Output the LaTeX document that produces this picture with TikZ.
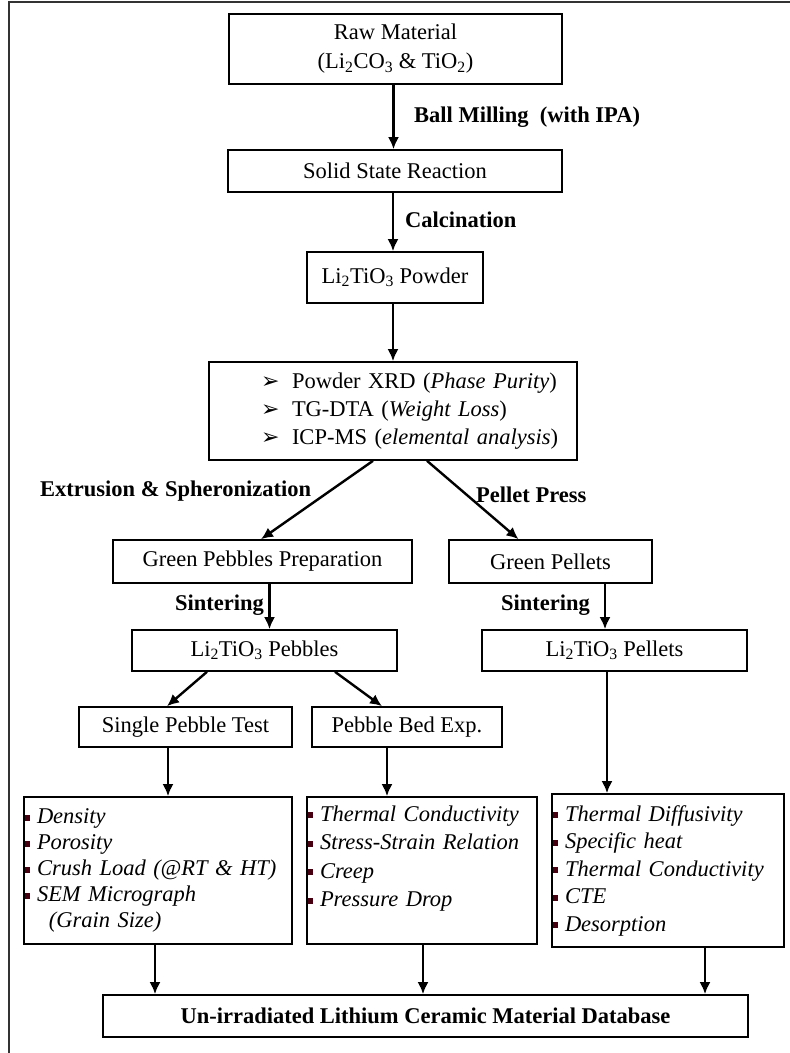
\documentclass[tikz,border=0pt]{standalone}
\usepackage{fontspec}
\setmainfont{Liberation Serif}
\newfontfamily\dejavu{DejaVu Sans}
\usetikzlibrary{calc,arrows.meta}
\definecolor{bulletred}{RGB}{70,0,15}
\newcommand{\chsub}[1]{\textsubscript{#1}}
\newcommand{\sqbul}{\textcolor{bulletred}{\rule[3pt]{5pt}{6pt}}\hspace{7pt}}
\newcommand{\arrbul}{\makebox[31pt][l]{\dejavu\fontsize{22}{22}\selectfont ➢}}

\begin{document}
\begin{tikzpicture}[x=1pt,y=-1pt,
  every node/.style={font=\fontsize{22.5}{26}\selectfont},
  box/.style={draw,line width=1.6pt,fill=white,inner sep=0pt,align=center},
  listbox/.style={draw,line width=1.6pt,fill=white,inner xsep=1pt,inner ysep=0pt,align=left},
  arr/.style={line width=2.4pt,-{Latex[length=12pt,width=11pt]}},
  lbl/.style={anchor=west,inner sep=0pt,font=\fontsize{22.5}{26}\selectfont\bfseries}]
  \useasboundingbox (0,0) rectangle (790,1053);
  \draw[line width=1.5pt,black!80] (9,1053) -- (9,2) -- (790,2);

  \node[box,minimum width=333,minimum height=70,font=\fontsize{22.5}{29}\selectfont] (raw) at (395.5,49) {Raw Material\\(Li\chsub{2}CO\chsub{3} \& TiO\chsub{2})};
  \node[box,minimum width=334,minimum height=42] (solid) at (395,171) {Solid State Reaction};
  \node[box,minimum width=176,minimum height=51] (powder) at (395,277.5) {Li\chsub{2}TiO\chsub{3} Powder};
  \node[listbox,text width=366,minimum height=98,font=\fontsize{22.5}{28}\selectfont] (analysis) at (393,411)
    {\hspace*{51pt}\arrbul Powder XRD (\textit{Phase Purity})\\
     \hspace*{51pt}\arrbul TG-DTA (\textit{Weight Loss})\\
     \hspace*{51pt}\arrbul ICP-MS (\textit{elemental analysis})};
  \node[box,minimum width=299,minimum height=43] (gpebble) at (262.5,561.5) {Green Pebbles Preparation};
  \node[box,minimum width=203,minimum height=43] (gpellet) at (550.5,561.5) {Green Pellets};
  \node[box,minimum width=265,minimum height=41] (pebbles) at (264.5,650.5) {Li\chsub{2}TiO\chsub{3} Pebbles};
  \node[box,minimum width=265,minimum height=41] (pellets) at (614.5,650.5) {Li\chsub{2}TiO\chsub{3} Pellets};
  \node[box,minimum width=213,minimum height=40] (sptest) at (185.5,727) {Single Pebble Test};
  \node[box,minimum width=190,minimum height=40] (bedexp) at (407,727) {Pebble Bed Exp.};
  \node[listbox,text width=266,minimum height=147,font=\fontsize{22.5}{26}\selectfont\itshape] (splist) at (158,870.5)
    {\sqbul Density\\ \sqbul Porosity\\ \sqbul Crush Load (@RT \& HT)\\ \sqbul SEM Micrograph\\ \hspace*{24pt}(Grain Size)};
  \node[listbox,text width=228,minimum height=147,font=\fontsize{22.5}{28.5}\selectfont\itshape] (bedlist) at (422,870.5)
    {\sqbul Thermal Conductivity\\ \sqbul Stress-Strain Relation\\ \sqbul Creep\\ \sqbul Pressure Drop\\ \mbox{}};
  \node[listbox,text width=230,minimum height=153,font=\fontsize{22.5}{27.5}\selectfont\itshape] (pelllist) at (668,870.5)
    {\sqbul Thermal Diffusivity\\ \sqbul Specific heat\\ \sqbul Thermal Conductivity\\ \sqbul CTE\\ \sqbul Desorption};
  \node[box,minimum width=645,minimum height=42,font=\fontsize{22.5}{26}\selectfont\bfseries] (dbase) at (425.5,1016) {Un-irradiated Lithium Ceramic Material Database};

  \node[lbl] (lblmill) at (414,117) {Ball Milling\ \ (with IPA)};
  \node[lbl] (lblcalc) at (405,220) {Calcination};
  \node[lbl] (lblext) at (40,491) {Extrusion \& Spheronization};
  \node[lbl] (lblpress) at (476,495) {Pellet Press};
  \node[lbl] (lblsintl) at (175,605) {Sintering};
  \node[lbl] (lblsintr) at (501,605) {Sintering};

  \draw[arr] ([xshift=-2pt]raw.south) -- ([xshift=-2pt]raw.south |- solid.north);
  \draw[arr] ([xshift=-2pt]solid.south) -- ([xshift=-2pt]solid.south |- powder.north);
  \draw[arr] ([xshift=-2pt]powder.south) -- ([xshift=-2pt]powder.south |- analysis.north);
  \draw[arr] ([xshift=-20pt]analysis.south) -- ([xshift=-1.5pt]gpebble.north);
  \draw[arr] ([xshift=34pt]analysis.south) -- ([xshift=-32pt]gpellet.north);
  \draw[arr] ([xshift=7pt]gpebble.south) -- ([xshift=7pt]gpebble.south |- pebbles.north);
  \draw[arr] ([xshift=54.5pt]gpellet.south) -- ([xshift=54.5pt]gpellet.south |- pellets.north);
  \draw[arr] ([xshift=-57.5pt]pebbles.south) -- ([xshift=-18.5pt]sptest.north);
  \draw[arr] ([xshift=70.5pt]pebbles.south) -- ([xshift=-25pt]bedexp.north);
  \draw[arr] ([xshift=-17.5pt]sptest.south) -- ([xshift=-17.5pt]sptest.south |- splist.north);
  \draw[arr] ([xshift=-20pt]bedexp.south) -- ([xshift=-20pt]bedexp.south |- bedlist.north);
  \draw[arr] ([xshift=-7.5pt]pellets.south) -- ([xshift=-7.5pt]pellets.south |- pelllist.north);
  \draw[arr] ([xshift=-3pt]splist.south) -- ([xshift=-3pt]splist.south |- dbase.north);
  \draw[arr] ([xshift=1pt]bedlist.south) -- ([xshift=1pt]bedlist.south |- dbase.north);
  \draw[arr] ([xshift=37pt]pelllist.south) -- ([xshift=37pt]pelllist.south |- dbase.north);
\end{tikzpicture}
\end{document}
